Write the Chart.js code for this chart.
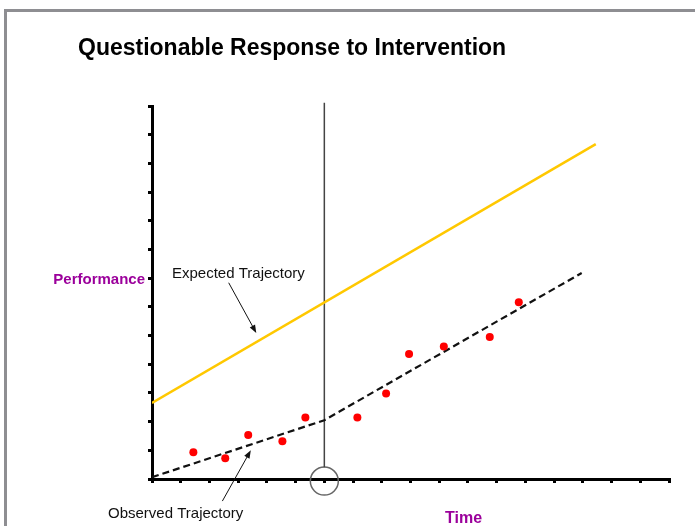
<!DOCTYPE html>
<html>
<head>
<meta charset="utf-8">
<script src="https://cdn.jsdelivr.net/npm/chart.js@4"></script>
<style>
  html, body { margin: 0; padding: 0; background: #fff; }
  #wrap { position: relative; width: 695px; height: 526px; overflow: hidden; }
  #frame { position: absolute; left: 4px; top: 9px; right: -10px; bottom: -10px;
           border-left: 3px solid #8e8e92; border-top: 3px solid #8e8e92; }
  canvas { position: absolute; left: 0; top: 0; }
</style>
</head>
<body>
<div id="wrap">
  <div id="frame"></div>
  <canvas id="grafico" width="695" height="526"></canvas>
</div>
<script>
// dados (unidades de tempo / desempenho)
const pontosTempo = [1.44, 2.55, 3.35, 4.54, 5.34, 7.15, 8.15, 8.95, 10.16, 11.76, 12.77];
const pontosDesempenho = [0.93, 0.72, 1.53, 1.32, 2.14, 2.14, 2.98, 4.36, 4.62, 4.95, 6.16];

const esperadoTempo = [0, 15.45];
const esperadoDesempenho = [2.65, 11.67];

const observadoTempo = [0, 6, 14.96];
const observadoDesempenho = [0.06, 2.05, 7.18];

const intervencaoTempo = 6;
const intervencaoDesempenho = [13.11, 0.41];
const marcadorDesempenho = -0.07;

const tempoMax = 18;
const desempenhoMax = 13;

// setas das legendas: [x1, y1, x2, y2] em unidades do grafico
const setaEsperada = [2.67, 6.84, 3.63, 5.09];
const setaObservada = [2.45, -0.77, 3.44, 1.0];

const titulo = 'Questionable Response to Intervention';
const rotuloY = 'Performance';
const rotuloX = 'Time';
const rotuloEsperado = 'Expected Trajectory';
const rotuloObservado = 'Observed Trajectory';

const pares = (xs, ys) => xs.map((x, i) => ({ x: x, y: ys[i] }));

function seta(ctx, x1, y1, x2, y2) {
    const ang = Math.atan2(y2 - y1, x2 - x1);
    ctx.save();
    ctx.strokeStyle = '#111';
    ctx.fillStyle = '#111';
    ctx.lineWidth = 1;
    ctx.beginPath();
    ctx.moveTo(x1, y1);
    ctx.lineTo(x2 - 5 * Math.cos(ang), y2 - 5 * Math.sin(ang));
    ctx.stroke();
    ctx.beginPath();
    ctx.moveTo(x2, y2);
    ctx.lineTo(x2 - 8 * Math.cos(ang) + 3 * Math.sin(ang), y2 - 8 * Math.sin(ang) - 3 * Math.cos(ang));
    ctx.lineTo(x2 - 8 * Math.cos(ang) - 3 * Math.sin(ang), y2 - 8 * Math.sin(ang) + 3 * Math.cos(ang));
    ctx.closePath();
    ctx.fill();
    ctx.restore();
}

function texto(ctx, str, x, y, fonte, cor, alinhar) {
    ctx.save();
    ctx.font = fonte;
    ctx.fillStyle = cor;
    ctx.textAlign = alinhar || 'left';
    ctx.textBaseline = 'alphabetic';
    ctx.fillText(str, x, y);
    ctx.restore();
}

const anotacoes = {
    id: 'anotacoes',
    afterDraw(chart) {
        const ctx = chart.ctx;
        const sx = chart.scales.x, sy = chart.scales.y;
        const px = v => sx.getPixelForValue(v), py = v => sy.getPixelForValue(v);
        const area = chart.chartArea;

        texto(ctx, titulo, 78, 55, 'bold 23px "Liberation Sans", Arial, sans-serif', '#000');
        texto(ctx, rotuloY, area.left - 7, 284, 'bold 15px "Liberation Sans", Arial, sans-serif', '#9b009b', 'right');
        texto(ctx, rotuloX, 445, 523, 'bold 16px "Liberation Sans", Arial, sans-serif', '#9b009b');
        texto(ctx, rotuloEsperado, 172, 278, '15px "Liberation Sans", Arial, sans-serif', '#111');
        texto(ctx, rotuloObservado, 108, 518, '15px "Liberation Sans", Arial, sans-serif', '#111');

        seta(ctx, px(setaEsperada[0]), py(setaEsperada[1]), px(setaEsperada[2]), py(setaEsperada[3]));
        seta(ctx, px(setaObservada[0]), py(setaObservada[1]), px(setaObservada[2]), py(setaObservada[3]));
    }
};

const ctx = document.getElementById('grafico').getContext('2d');
const chart = new Chart(ctx, {
    type: 'scatter',
    data: {
        datasets: [
            {
                label: 'Pontos',
                data: pares(pontosTempo, pontosDesempenho),
                backgroundColor: '#ff0000',
                borderColor: '#ff0000',
                pointRadius: 4,
                pointBorderWidth: 0
            },
            {
                label: 'Observada',
                data: pares(observadoTempo, observadoDesempenho),
                showLine: true,
                borderColor: '#111',
                borderWidth: 2.2,
                borderDash: [7, 4],
                pointRadius: 0
            },
            {
                label: 'Esperada',
                data: pares(esperadoTempo, esperadoDesempenho),
                showLine: true,
                borderColor: '#ffc800',
                borderWidth: 2.5,
                pointRadius: 0
            },
            {
                label: 'Intervencao',
                data: intervencaoDesempenho.map(v => ({ x: intervencaoTempo, y: v })),
                showLine: true,
                borderColor: '#444',
                borderWidth: 1.5,
                pointRadius: 0,
                clip: false
            },
            {
                label: 'Marcador',
                data: [{ x: intervencaoTempo, y: marcadorDesempenho }],
                pointRadius: 14,
                backgroundColor: 'rgba(0,0,0,0)',
                borderColor: '#666',
                pointBorderWidth: 1.5,
                clip: false
            }
        ]
    },
    options: {
        responsive: false,
        animation: false,
        events: [],
        layout: { padding: { top: 106, right: 26, left: 0, bottom: 0 } },
        plugins: { legend: { display: false }, tooltip: { enabled: false } },
        scales: {
            x: {
                type: 'linear',
                min: 0,
                max: tempoMax,
                ticks: { display: false, stepSize: 1 },
                grid: { drawOnChartArea: false, drawTicks: true, tickLength: 4, color: '#000', lineWidth: 3 },
                border: { color: '#000', width: 3 },
                afterFit(scale) { scale.height = 47; }
            },
            y: {
                type: 'linear',
                min: 0,
                max: desempenhoMax,
                ticks: { display: false, stepSize: 1 },
                grid: { drawOnChartArea: false, drawTicks: true, tickLength: 4, color: '#000', lineWidth: 3 },
                border: { color: '#000', width: 3 },
                afterFit(scale) { scale.width = 152; }
            }
        }
    },
    plugins: [anotacoes]
});
</script>
</body>
</html>
